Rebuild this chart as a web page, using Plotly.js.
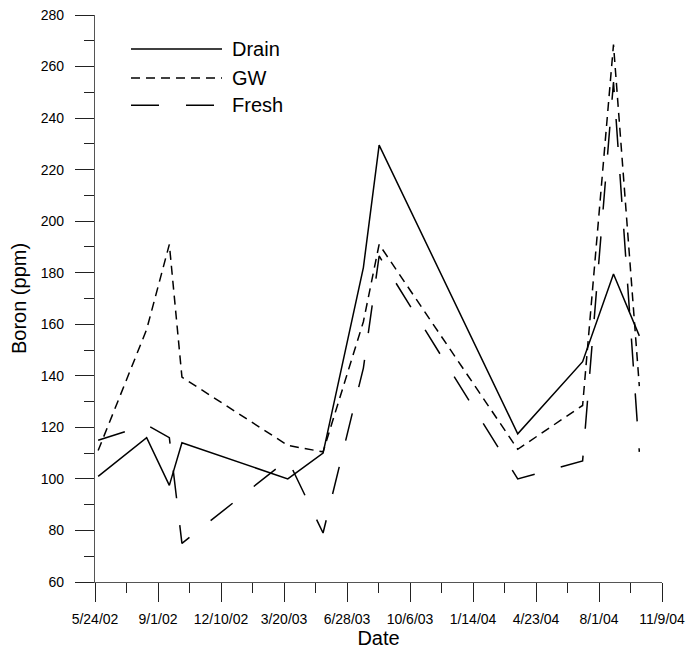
<!DOCTYPE html>
<html>
<head>
<meta charset="utf-8">
<script src="https://cdn.plot.ly/plotly-3.0.1.min.js"></script>
<style>
  html, body { margin: 0; padding: 0; background: #fff; }
  #chart { width: 689px; height: 649px; }
</style>
</head>
<body>
<div id="chart"></div>
<script>
// Sampling dates (shared by all three series)
const dates = ['2002-05-29', '2002-08-14', '2002-09-19', '2002-10-09', '2003-03-26', '2003-05-21',
               '2003-07-24', '2003-08-18', '2004-03-25', '2004-07-06', '2004-08-24', '2004-10-04'];

// Boron concentrations (ppm)
const drain = [101, 116, 97.5, 114, 100, 110, 182, 229.5, 117.5, 145.5, 179.5, 155.5];
const gw    = [111, 158, 191, 139.5, 113, 110.5, 161, 191, 111.5, 128.5, 268.5, 136];
const fresh = [115, 121, 116, 75, 107.5, 79, 143, 186.5, 100, 107, 254, 110.5];

const seriesNames = ['Drain', 'GW', 'Fresh'];
const yTickVals = [60, 80, 100, 120, 140, 160, 180, 200, 220, 240, 260, 280];
const xTickVals = ['2002-05-24', '2002-09-01', '2002-12-10', '2003-03-20', '2003-06-28',
                   '2003-10-06', '2004-01-14', '2004-04-23', '2004-08-01', '2004-11-09'];

const FONT = 'Arial, "Liberation Sans", sans-serif';
const dashes = ['solid', '9px,6px', '28px,27px'];
const values = [drain, gw, fresh];

const traces = values.map((v, i) => ({
  x: dates, y: v, type: 'scatter', mode: 'lines', name: seriesNames[i],
  line: { color: '#000', width: 1.5, dash: dashes[i] },
  showlegend: false, hoverinfo: 'x+y+name'
}));

// Custom legend (long line samples as in the reference)
const legY = [0.940, 0.889, 0.841];
const shapes = seriesNames.map((n, i) => ({
  type: 'line', xref: 'paper', yref: 'paper',
  x0: 0.0635, x1: 0.224, y0: legY[i], y1: legY[i],
  line: { color: '#000', width: 1.5, dash: dashes[i] }
}));
const annotations = seriesNames.map((n, i) => ({
  xref: 'paper', yref: 'paper', x: 0.238, y: legY[i], xanchor: 'left', yanchor: 'middle',
  text: n, showarrow: false, font: { family: FONT, size: 20, color: '#000' }
}));

const layout = {
  width: 689, height: 649,
  margin: { l: 95, r: 27, t: 15, b: 67 },
  paper_bgcolor: '#fff', plot_bgcolor: '#fff',
  font: { family: FONT, color: '#000' },
  xaxis: {
    type: 'date',
    range: ['2002-05-24', '2004-11-09'],
    tickmode: 'array', tickvals: xTickVals, tickformat: '%-m/%-d/%y',
    ticks: 'outside', ticklen: 19, tickwidth: 1, tickcolor: '#222',
    minor: { ticks: 'outside', ticklen: 10, tickwidth: 1, tickcolor: '#222',
             tick0: '2002-05-24', dtick: 50 * 86400000 },
    showline: true, linecolor: '#555', linewidth: 1.2,
    showgrid: false, zeroline: false,
    tickfont: { family: FONT, size: 14, color: '#000' },
    ticklabelstandoff: 5,
    title: { text: 'Date', font: { family: FONT, size: 20, color: '#000' }, standoff: 1 }
  },
  yaxis: {
    range: [60, 280],
    tickmode: 'array', tickvals: yTickVals,
    ticks: 'outside', ticklen: 19, tickwidth: 1, tickcolor: '#222',
    minor: { ticks: 'outside', ticklen: 10, tickwidth: 1, tickcolor: '#222', dtick: 10 },
    showline: true, linecolor: '#555', linewidth: 1.2,
    showgrid: false, zeroline: false,
    tickfont: { family: FONT, size: 14, color: '#000' },
    ticklabelstandoff: 8,
    title: { text: 'Boron (ppm)', font: { family: FONT, size: 20, color: '#000' }, standoff: 8 }
  },
  shapes: shapes,
  annotations: annotations
};

Plotly.newPlot('chart', traces, layout, { staticPlot: true, displayModeBar: false });
</script>
</body>
</html>
